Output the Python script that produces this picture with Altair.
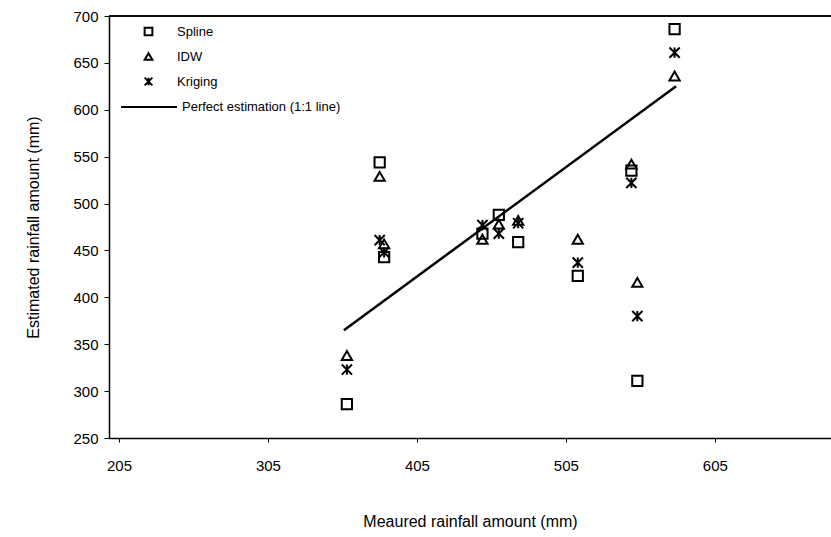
import altair as alt
import pandas as pd

# ---- data ----
measured = [358, 380, 383, 449, 460, 473, 513, 549, 553, 578]
spline = [286, 544, 443, 468, 488, 459, 423, 535, 311, 686]
idw = [338, 529, 457, 462, 478, 482, 462, 542, 416, 636]
kriging = [323, 461, 448, 477, 468, 479, 437, 522, 380, 661]
line_x = [356, 579]
line_y = [365, 625]
line_label = "Perfect estimation (1:1 line)"

series_names = ["Spline", "IDW", "Kriging"]
x_ticks = [205, 305, 405, 505, 605]
y_ticks = [250, 300, 350, 400, 450, 500, 550, 600, 650, 700]

rows = []
for name, vals in zip(series_names, [spline, idw, kriging]):
    for m, v in zip(measured, vals):
        rows.append({"measured": m, "estimated": v, "method": name})
pts = pd.DataFrame(rows)
line_df = pd.DataFrame({"measured": line_x, "estimated": line_y, "series": [line_label] * 2})

FONT = "Liberation Sans"
kriging_path = "M-1,-1L1,1M1,-1L-1,1M0,-1L0,1"

xscale = alt.Scale(domain=[198.3, 683], nice=False, zero=False)
yscale = alt.Scale(domain=[250, 700], nice=False, zero=False)

xaxis = alt.Axis(values=x_ticks, title="Meaured rainfall amount (mm)", grid=False,
                 tickSize=4, labelPadding=16, titlePadding=40, labelFontSize=15,
                 titleFontSize=16, titleFontWeight="normal", labelFont=FONT, titleFont=FONT,
                 domainColor="black", tickColor="black", labelColor="black", titleColor="black",
                 domainWidth=1.5, labelFlush=False)
yaxis = alt.Axis(values=y_ticks, title="Estimated rainfall amount (mm)", grid=False,
                 tickSize=5, labelPadding=6, titlePadding=31, labelFontSize=15,
                 titleFontSize=16, titleFontWeight="normal", labelFont=FONT, titleFont=FONT,
                 domainColor="black", tickColor="black", labelColor="black", titleColor="black",
                 domainWidth=1.5)

points = alt.Chart(pts).mark_point(filled=False, strokeWidth=2, color="black", size=105, opacity=1).encode(
    x=alt.X("measured:Q", scale=xscale, axis=xaxis),
    y=alt.Y("estimated:Q", scale=yscale, axis=yaxis),
    shape=alt.Shape("method:N",
                    scale=alt.Scale(domain=series_names, range=["square", "triangle-up", kriging_path]),
                    sort=series_names,
                    legend=alt.Legend(orient="none", legendX=33, legendY=9, title=None,
                                      symbolStrokeColor="black", symbolFillColor="transparent",
                                      symbolStrokeWidth=2, symbolSize=60, labelFontSize=13,
                                      labelFont=FONT, labelColor="black", rowPadding=9,
                                      labelOffset=22, padding=0)),
)

line = alt.Chart(line_df).mark_line(strokeWidth=2.5).encode(
    x=alt.X("measured:Q", scale=xscale),
    y=alt.Y("estimated:Q", scale=yscale),
    color=alt.Color("series:N", scale=alt.Scale(domain=[line_label], range=["black"]),
                    legend=alt.Legend(orient="none", legendX=11, legendY=62, title=None,
                                      symbolType="stroke", symbolSize=3136, symbolStrokeWidth=2,
                                      labelFontSize=13, labelFont=FONT, labelColor="black",
                                      labelOffset=4, padding=0)),
)

top_border = alt.Chart(line_df).mark_rule(color="black", strokeWidth=1.5).encode(
    y=alt.value(0), x=alt.value(0), x2=alt.value(722)
)

chart = alt.layer(line, points, top_border).resolve_legend(
    shape="independent", color="independent"
).properties(
    width=722, height=422,
    autosize=alt.AutoSizeParams(type="none"),
    padding={"left": 109, "top": 16, "right": 0, "bottom": 99},
    background="white",
).configure_view(stroke=None)

chart.save("out.html", embed_options={"renderer": "svg", "actions": False})
